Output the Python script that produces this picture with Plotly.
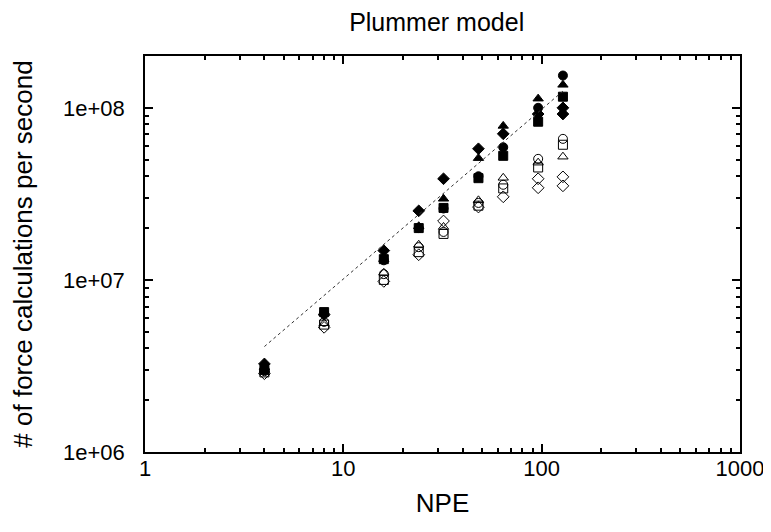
import plotly.graph_objects as go

npe = [4, 8, 16, 24, 32, 48, 64, 96, 128]

filled_circle = [3.0e6, 6.4e6, 1.30e7, 2.00e7, 2.60e7, 4.0e7, 5.9e7, 1.00e8, 1.54e8]
filled_triangle = [3.1e6, 6.4e6, 1.32e7, 2.05e7, 2.96e7, 5.1e7, 7.85e7, 1.13e8, 1.36e8]
filled_square = [3.0e6, 6.5e6, 1.32e7, 2.00e7, 2.62e7, 3.9e7, 5.26e7, 8.3e7, 1.16e8]
filled_diamond = [3.25e6, 6.3e6, 1.48e7, 2.52e7, 3.87e7, 5.78e7, 7.06e7, 9.2e7, 1.00e8]
filled_diamond_b = [None, None, None, None, None, None, None, None, 9.2e7]

open_circle = [2.95e6, 5.7e6, 1.08e7, 1.55e7, 1.90e7, 2.8e7, 3.57e7, 5.05e7, 6.6e7]
open_triangle = [3.0e6, 5.6e6, 1.10e7, 1.60e7, 2.03e7, 2.9e7, 3.92e7, 4.8e7, 5.2e7]
open_square = [2.9e6, 5.5e6, 1.00e7, 1.45e7, 1.85e7, 2.7e7, 3.4e7, 4.5e7, 6.1e7]
open_diamond = [2.85e6, 5.3e6, 9.8e6, 1.40e7, 2.20e7, 2.65e7, 3.04e7, 3.87e7, 3.97e7]
open_diamond_b = [None, None, None, None, None, None, None, 3.43e7, 3.52e7]

fit_x = [4, 128]
fit_y = [4.1e6, 1.25e8]

x_tickvals = [1, 10, 100, 1000]
x_ticktext = ["1", "10", "100", "1000"]
y_tickvals = [1e6, 1e7, 1e8]
y_ticktext = ["1e+06", "1e+07", "1e+08"]

fig = go.Figure()

series = [
    (filled_circle, "circle"),
    (filled_triangle, "triangle-up"),
    (filled_square, "square"),
    (filled_diamond, "diamond"),
    (filled_diamond_b, "diamond"),
    (open_circle, "circle-open"),
    (open_triangle, "triangle-up-open"),
    (open_square, "square-open"),
    (open_diamond, "diamond-open"),
    (open_diamond_b, "diamond-open"),
]
for ys, sym in series:
    fig.add_trace(go.Scatter(
        x=npe, y=ys, mode="markers",
        marker=dict(symbol=sym, size=9, color="black",
                    line=dict(color="black", width=1)),
        showlegend=False,
    ))

fig.add_trace(go.Scatter(
    x=fit_x, y=fit_y, mode="lines",
    line=dict(color="#333333", width=1, dash="dot"),
    showlegend=False,
))

font = dict(family="Liberation Sans, Arial, Helvetica, sans-serif", size=22, color="black")

# The page body has an 8px margin, so the figure is offset by 8px.
fig.update_layout(
    width=771, height=532,
    margin=dict(l=137, r=39, t=48, b=88, autoexpand=False),
    paper_bgcolor="white", plot_bgcolor="white",
    font=font,
    title=dict(text="Plummer model", x=0.556, xref="container", xanchor="center",
               y=0.974, yref="container", yanchor="middle",
               font=dict(size=25), automargin=False),
    xaxis=dict(
        type="log", range=[0, 3], automargin=False,
        tickvals=x_tickvals, ticktext=x_ticktext,
        ticks="inside", ticklen=8, tickwidth=1.5, tickcolor="black",
        showline=True, linecolor="black", linewidth=1.5, mirror="allticks",
        showgrid=False, zeroline=False,
        minor=dict(ticks="inside", ticklen=4, tickcolor="black", dtick="D1", showgrid=False),
        title=dict(text="NPE", standoff=14),
        ticklabelstandoff=-4,
    ),
    yaxis=dict(
        type="log", range=[6, 8.301], automargin=False,
        tickvals=y_tickvals, ticktext=y_ticktext,
        ticks="inside", ticklen=8, tickwidth=1.5, tickcolor="black",
        showline=True, linecolor="black", linewidth=1.5, mirror="allticks",
        showgrid=False, zeroline=False,
        minor=dict(ticks="inside", ticklen=4, tickcolor="black", dtick="D1", showgrid=False),
        title=dict(text="# of force calculations per second", standoff=25),
        ticklabelstandoff=14,
    ),
)

fig.write_html("out.html")
